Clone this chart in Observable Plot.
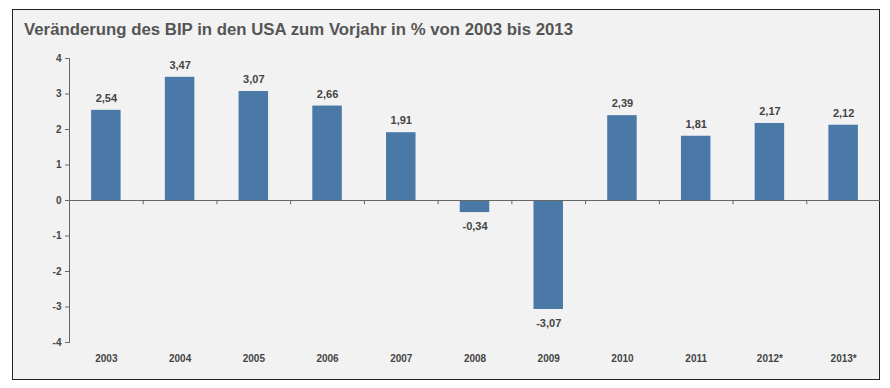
<!DOCTYPE html>
<html><head><meta charset="utf-8">
<script src="https://cdn.jsdelivr.net/npm/d3@7"></script>
<script src="https://cdn.jsdelivr.net/npm/@observablehq/plot@0.6"></script>
<style>
body{margin:0;background:#fff;font-family:"Liberation Sans",Arial,sans-serif;}
#wrap{position:relative;width:890px;height:388px;}
#frame{position:absolute;left:12px;top:9px;width:866px;height:369px;border:1.5px solid #222;background:#f2f2f2;}
#title{position:absolute;left:24px;top:20px;font-size:16.8px;font-weight:bold;color:#555;white-space:nowrap;}
#chart{position:absolute;left:0;top:0;}
</style></head>
<body>
<div id="wrap"><div id="frame"></div><div id="title">Veränderung des BIP in den USA zum Vorjahr in % von 2003 bis 2013</div><div id="chart"></div></div>
<script>
const years = ["2003","2004","2005","2006","2007","2008","2009","2010","2011","2012*","2013*"];
const values = [2.54,3.47,3.07,2.66,1.91,-0.34,-3.07,2.39,1.81,2.17,2.12];
const yTicks = [-4,-3,-2,-1,0,1,2,3,4];
const data = years.map((y,i)=>({year:y,value:values[i]}));
const W=890,H=388,mL=69,mR=10,mT=58,mB=46;
const step=(W-mL-mR)/years.length;
const fmt = v => v.toFixed(2).replace(".", ",");
const chart = Plot.plot({
  width:W,height:H,marginLeft:mL,marginRight:mR,marginTop:mT,marginBottom:mB,
  style:{background:"transparent",fontFamily:"Liberation Sans, Arial, sans-serif"},
  x:{domain:years,paddingInner:0.6,paddingOuter:0.3,round:false,label:null},
  y:{domain:[-4,4],label:null},
  marks:[
    Plot.barY(data,{x:"year",y:"value",fill:"#4a79a8"}),
    Plot.ruleY([0],{stroke:"#666",strokeWidth:1}),
    Plot.ruleX(years.slice(1),{x:d=>d,dx:-step/2,y1:0,y2:-0.12,stroke:"#666"}),
    Plot.frame({anchor:"left",stroke:"#666"}),
    Plot.axisY({ticks:yTicks,tickSize:4,tickPadding:4,tickFormat:d=>String(d),fontSize:10,fontWeight:"bold",fill:"#444",stroke:"#666",label:null}),
    Plot.axisX({tickSize:0,tickPadding:12,fontSize:10,fontWeight:"bold",fill:"#444",label:null}),
    Plot.text(data,{x:"year",y:"value",text:d=>fmt(d.value),fontSize:11,fontWeight:"bold",fill:"#444",
      filter:d=>d.value>=0,dy:-12}),
    Plot.text(data,{x:"year",y:"value",text:d=>fmt(d.value),fontSize:11,fontWeight:"bold",fill:"#444",
      filter:d=>d.value<0,dy:14})
  ]
});
document.getElementById("chart").append(chart);
</script>
</body></html>
